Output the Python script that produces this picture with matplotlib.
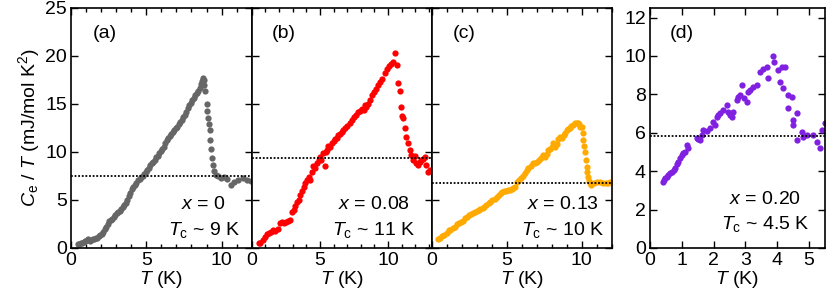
import matplotlib
matplotlib.use('Agg')
import matplotlib.pyplot as plt
from matplotlib.ticker import MultipleLocator

plt.rcParams['font.family'] = ['Liberation Sans', 'DejaVu Sans']
plt.rcParams['mathtext.fontset'] = 'custom'
plt.rcParams['mathtext.rm'] = 'Liberation Sans'
plt.rcParams['mathtext.it'] = 'Liberation Sans:italic'

# (a) x = 0
t_a = [0.45, 0.55, 0.65, 0.75, 0.85, 0.95, 1.05, 1.15, 1.25, 1.35, 1.45, 1.55, 1.65, 1.75,
       1.85, 1.95, 2.05, 2.15, 2.25, 2.35, 2.45, 2.55, 2.65, 2.75, 2.85, 2.95, 3.05, 3.15,
       3.25, 3.35, 3.45, 3.55, 3.65, 3.75, 3.85, 3.95, 4.05, 4.15, 4.25, 4.35, 4.45, 4.55,
       4.65, 4.75, 4.85, 4.95, 5.05, 5.15, 5.25, 5.35, 5.45, 5.55, 5.65, 5.75, 5.85, 5.95,
       6.05, 6.15, 6.25, 6.35, 6.45, 6.55, 6.65, 6.75, 6.85, 6.95, 7.05, 7.15, 7.25, 7.35,
       7.45, 7.55, 7.65, 7.75, 7.85, 7.95, 8.05, 8.15, 8.25, 8.35, 8.45, 8.55, 8.65, 8.72,
       8.78, 8.82, 8.85, 8.9, 9.0, 9.05, 9.1, 9.15, 9.2, 9.25, 9.3, 9.35, 9.42, 9.5, 9.6,
       9.75, 9.95, 10.15, 10.35, 10.6, 10.85, 11.1, 11.4, 11.7, 11.95]
c_a = [0.45, 0.4, 0.55, 0.5, 0.6, 0.7, 0.85, 0.95, 0.75, 0.8, 0.9, 0.95, 1.0, 1.05,
       1.2, 1.35, 1.5, 1.7, 1.95, 2.2, 2.45, 2.8, 2.95, 3.05, 3.25, 3.45, 3.6, 3.75,
       3.9, 4.1, 4.25, 4.45, 4.7, 5.0, 5.4, 5.75, 6.1, 6.4, 6.55, 6.8, 7.05, 7.2,
       7.35, 7.5, 7.7, 7.95, 8.15, 8.35, 8.6, 8.8, 9.0, 9.2, 9.45, 9.6, 9.85, 10.05,
       10.3, 10.55, 10.9, 11.2, 11.45, 11.7, 11.9, 12.1, 12.3, 12.5, 12.65, 12.9, 13.1, 13.35,
       13.6, 13.85, 14.2, 14.55, 14.9, 15.15, 15.4, 15.65, 15.9, 16.1, 16.35, 16.7, 17.05, 17.4,
       17.7, 17.5, 17.0, 16.4, 15.0, 14.3, 13.5, 12.9, 12.3, 11.2, 10.3, 9.4, 8.6, 8.0, 7.6,
       7.5, 7.3, 7.4, 7.2, 6.55, 6.9, 7.1, 7.25, 7.05, 7.0]

# (b) x = 0.08
t_b = [0.5, 0.63, 0.8, 0.95, 1.1, 1.24, 1.4, 1.58, 1.73, 1.9, 2.07, 2.2, 2.34, 2.5, 2.65,
       2.8, 2.93, 3.07, 3.2, 3.32, 3.44, 3.55, 3.66, 3.8, 3.92, 4.05, 4.17, 4.27, 4.4,
       4.53, 4.65, 4.78, 4.9, 5.0, 5.1, 5.2, 5.36, 5.45, 5.51, 5.62, 5.73, 5.87, 6.0,
       6.12, 6.25, 6.36, 6.46, 6.6, 6.72, 6.85, 7.0, 7.19, 7.34, 7.5, 7.65, 7.82, 7.95,
       8.1, 8.2, 8.31, 8.41, 8.5, 8.65, 8.8, 8.95, 9.1, 9.29, 9.39, 9.55, 9.77, 9.95,
       10.1, 10.24, 10.35, 10.5, 10.63, 10.75, 10.85, 10.97, 11.0, 11.09, 11.22, 11.35,
       11.46, 11.6, 11.7, 11.85, 11.95, 12.07, 12.2, 12.32, 12.44, 12.58, 12.68, 12.8,
       12.95, 13.1]
c_b = [0.5, 0.55, 0.8, 1.1, 1.5, 1.55, 1.7, 1.85, 1.8, 1.95, 2.6, 2.7, 2.65, 2.75, 2.85,
       2.9, 3.75, 3.95, 4.4, 4.8, 5.0, 5.5, 5.9, 6.4, 6.8, 7.1, 7.4, 7.1, 7.9,
       8.5, 8.3, 8.9, 9.2, 9.5, 9.2, 9.9, 8.5, 10.0, 10.2, 10.6, 10.55, 10.9, 11.1,
       11.3, 11.5, 11.8, 11.9, 12.1, 12.3, 12.5, 12.7, 13.0, 13.3, 13.6, 13.8, 14.2, 14.3,
       14.5, 14.4, 14.9, 14.7, 15.0, 15.4, 15.9, 16.2, 16.6, 17.0, 17.3, 17.6, 18.2, 18.6,
       19.0, 19.2, 19.4, 20.35, 19.1, 17.2, 16.3, 14.7, 13.7, 13.5, 12.5, 11.6,
       10.9, 10.2, 9.7, 9.2, 9.6, 8.8, 8.65, 9.0, 9.2, 9.3, 9.5, 8.6,
       7.95, 8.1]

# (c) x = 0.13
t_c = [0.45, 0.58, 0.7, 0.85, 1.0, 1.13, 1.25, 1.4, 1.55, 1.68, 1.8, 1.95, 2.1, 2.22, 2.35,
       2.47, 2.6, 2.75, 2.88, 3.0, 3.13, 3.25, 3.4, 3.52, 3.65, 3.8, 3.92, 4.05, 4.2, 4.33,
       4.47, 4.6, 4.67, 4.8, 4.95, 5.1, 5.22, 5.35, 5.45, 5.55, 5.66, 5.8, 5.95, 6.1, 6.24,
       6.33, 6.45, 6.6, 6.78, 6.91, 7.0, 7.15, 7.3, 7.44, 7.58, 7.7, 7.78, 7.9, 8.0, 8.11,
       8.24, 8.35, 8.45, 8.55, 8.7, 8.8, 8.91, 9.0, 9.1, 9.2, 9.3, 9.44, 9.58, 9.68, 9.77,
       9.85, 9.91, 10.0, 10.06, 10.11, 10.17, 10.22, 10.28, 10.33, 10.39, 10.44, 10.5, 10.55,
       10.6, 10.8, 11.0, 11.2, 11.44, 11.6, 11.77, 11.9]
c_c = [0.95, 1.0, 1.2, 1.35, 1.6, 1.88, 1.85, 2.1, 2.2, 2.45, 2.57, 2.7, 2.8, 3.1, 3.25,
       3.44, 3.5, 3.6, 3.75, 3.85, 3.96, 4.05, 4.2, 4.3, 4.5, 4.65, 4.8, 4.95, 5.15, 5.3,
       5.52, 5.7, 5.87, 5.9, 5.95, 6.0, 6.04, 6.1, 6.25, 6.39, 6.9, 7.1, 7.3, 7.5, 7.78,
       8.1, 8.3, 8.5, 8.82, 8.82, 9.0, 9.15, 9.4, 9.69, 9.51, 9.8, 10.2, 10.3, 10.5, 10.9,
       10.55, 10.8, 11.3, 11.6, 11.5, 11.8, 11.94, 12.3, 12.35, 12.5, 12.7, 12.8, 12.99, 13.05, 13.0,
       12.9, 12.64, 12.6, 12.0, 11.25, 10.6, 10.03, 9.2, 8.47, 7.9, 7.43, 7.0, 6.74,
       6.6, 6.8, 6.9, 6.85, 6.8, 6.75, 6.74, 6.85]

# (d) x = 0.20
t_d = [0.42, 0.45, 0.47, 0.52, 0.58, 0.63, 0.68, 0.74, 0.79, 0.85, 0.89, 0.95, 1.0, 1.05,
       1.1, 1.17, 1.2, 1.47, 1.52, 1.57, 1.62, 1.68, 1.78, 1.89, 1.99, 2.05, 2.1, 2.15, 2.2,
       2.3, 2.41, 2.46, 2.52, 2.57, 2.62, 2.73, 2.78, 2.83, 2.88, 2.95, 3.04, 3.09, 3.14,
       3.25, 3.35, 3.46, 3.56, 3.67, 3.72, 3.88, 3.9, 4.04, 4.09, 4.14, 4.19, 4.25, 4.35,
       4.35, 4.45, 4.51, 4.51, 4.61, 4.61, 4.77, 4.82, 4.95, 5.14, 5.24, 5.35, 5.4, 5.5]
c_d = [3.46, 3.55, 3.63, 3.7, 3.81, 3.9, 3.98, 4.05, 4.16, 4.35, 4.5, 4.7, 4.85, 4.95,
       5.02, 5.37, 5.2, 5.71, 5.65, 5.63, 5.9, 6.15, 6.1, 6.23, 6.58, 6.4, 6.84, 6.9, 7.01,
       7.2, 7.44, 7.1, 6.92, 6.8, 7.1, 7.7, 7.85, 7.96, 8.48, 7.8, 7.62, 8.1, 8.22,
       8.4, 8.48, 9.17, 9.3, 9.43, 8.83, 9.99, 9.69, 9.26, 8.65, 9.4, 8.31, 9.43, 7.96,
       7.27, 7.88, 6.66, 6.4, 7.01, 5.63, 6.06, 5.8, 5.9, 5.89, 5.54, 5.19, 6.15, 6.49]

# normal state level (dotted)
gamma_n = [7.45, 9.35, 6.8, 5.83]

labels = ['(a)', '(b)', '(c)', '(d)']
x_text = ['$x$ = 0', '$x$ = 0.08', '$x$ = 0.13', '$x$ = 0.20']
tc_text = [r'$T_\mathrm{c}$ ~ 9 K', r'$T_\mathrm{c}$ ~ 11 K', r'$T_\mathrm{c}$ ~ 10 K',
           r'$T_\mathrm{c}$ ~ 4.5 K']
colors = ['#666666', '#ff0000', '#ffaa00', '#8020e0']
x_max = [12, 13.2, 12, 5.5]

data = [(t_a, c_a), (t_b, c_b), (t_c, c_c), (t_d, c_d)]

fig = plt.figure(figsize=(8.3, 3.05), dpi=100)
lefts = [0.0855, 0.3033, 0.5201, 0.7831]
widths = [0.2178, 0.2168, 0.2168, 0.2108]
text_x = [0.735, 0.68, 0.73, 0.657]
label_x = [0.12, 0.11, 0.118, 0.114]
fs = 14

for i in range(4):
    ax = fig.add_axes([lefts[i], 0.187, widths[i], 0.787])
    t, c = data[i]
    ax.plot(t, c, 'o', color=colors[i], ms=4.5, mec='none')
    ax.axhline(gamma_n[i], color='black', ls=(0, (1, 1)), lw=1.3)

    ax.set_xlim(0, x_max[i])
    if i < 3:
        ax.set_ylim(0, 25)
        ax.xaxis.set_major_locator(MultipleLocator(5))
        ax.xaxis.set_minor_locator(MultipleLocator(1))
        ax.yaxis.set_major_locator(MultipleLocator(5))
        if i > 0:
            ax.tick_params(labelleft=False)
    else:
        ax.set_ylim(0, 12.5)
        ax.xaxis.set_major_locator(MultipleLocator(1))
        ax.yaxis.set_major_locator(MultipleLocator(2))

    ax.tick_params(which='both', direction='in', top=True, right=True,
                   labelsize=fs, width=1.0)
    ax.tick_params(which='major', length=5, pad=3)
    ax.tick_params(which='minor', length=3)
    for s in ax.spines.values():
        s.set_linewidth(1.2)

    ax.set_xlabel('$T$ (K)', fontsize=fs, labelpad=0)
    ax.text(label_x[i], 0.895, labels[i], transform=ax.transAxes, fontsize=fs,
            ha='left', va='center')
    ax.text(text_x[i], 0.18 if i < 3 else 0.2, x_text[i], transform=ax.transAxes,
            fontsize=fs, ha='center', va='center')
    ax.text(text_x[i], 0.075 if i < 3 else 0.1, tc_text[i], transform=ax.transAxes,
            fontsize=fs, ha='center', va='center')
    if i == 0:
        ax.set_ylabel(r'$C_\mathrm{e}$ / $T$ (mJ/mol K$^2$)', fontsize=fs, labelpad=2)

fig.savefig('out.png', dpi=100)
